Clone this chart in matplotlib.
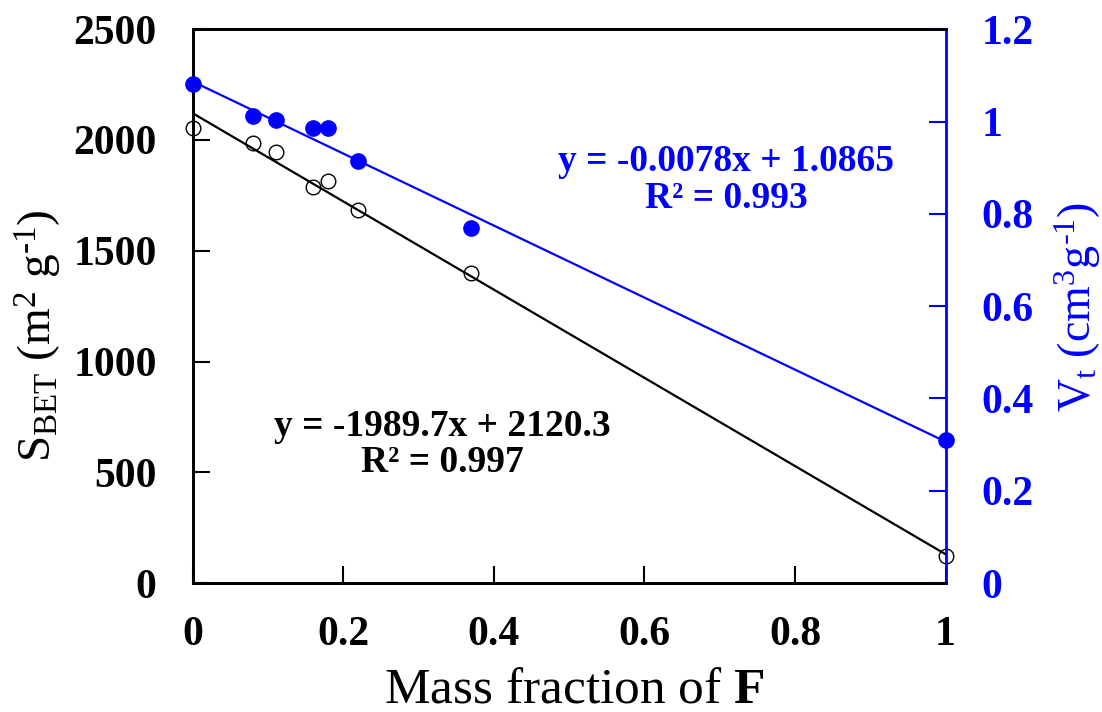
import numpy as np
import matplotlib
matplotlib.use("Agg")
import matplotlib.pyplot as plt

plt.rcParams.update({
    "font.family": "Liberation Serif",
    "mathtext.fontset": "custom",
    "mathtext.rm": "Liberation Serif",
    "mathtext.it": "Liberation Serif:italic",
    "mathtext.bf": "Liberation Serif:bold",
})

# ---- data ----
mass_frac = [0.0, 0.08, 0.11, 0.16, 0.18, 0.22, 0.37, 1.0]
s_bet = [2055, 1985, 1944, 1790, 1813, 1682, 1401, 122]          # m2/g
v_t = [1.082, 1.011, 1.003, 0.985, 0.985, 0.914, 0.770, 0.310]   # cm3/g

# linear fits as printed on the chart
S_SLOPE, S_INT, S_R2 = -1989.7, 2120.3, 0.997
V_SLOPE, V_INT, V_R2 = -0.0078, 1.0865, 0.993   # slope per % F

BLUE = "#0000ff"

fig = plt.figure(figsize=(11.02, 7.12), dpi=100)
ax = fig.add_axes([0.175, 0.181, 0.683, 0.778])
ax2 = ax.twinx()

xl = np.array([min(mass_frac), max(mass_frac)])
ax.plot(xl, S_INT + S_SLOPE * xl, color="black", lw=1.6, zorder=2)
ax.plot(mass_frac, s_bet, "o", ms=10.5, mfc="none", mec="black", mew=1.0, zorder=3, clip_on=False)

ax2.plot(xl, V_INT + V_SLOPE * 100 * xl, color=BLUE, lw=1.6, zorder=2)
ax2.plot(mass_frac, v_t, "o", ms=11, color=BLUE, zorder=3, clip_on=False)

ax.set_xlim(0, 1)
ax.set_ylim(0, 2500)
ax2.set_ylim(0, 1.2)
ax.set_xticks(np.arange(0, 1.01, 0.2))
ax.set_xticklabels(["0", "0.2", "0.4", "0.6", "0.8", "1"])
ax.set_yticks(np.arange(0, 2501, 500))
ax2.set_yticks(np.arange(0, 1.21, 0.2))
ax2.set_yticklabels(["0", "0.2", "0.4", "0.6", "0.8", "1", "1.2"])

for a in (ax, ax2):
    for sp in a.spines.values():
        sp.set_linewidth(2.0)
ax.spines["right"].set_visible(False)
ax2.spines["right"].set_color(BLUE)

ax.tick_params(axis="both", direction="in", length=12, width=1.5, labelsize=30)
ax.tick_params(axis="y", pad=26)
ax.tick_params(axis="x", pad=24)
ax2.tick_params(axis="y", direction="in", length=12, width=1.5, labelsize=30,
                colors=BLUE, pad=26)
for lab in ax.get_xticklabels() + ax.get_yticklabels() + ax2.get_yticklabels():
    lab.set_fontweight("bold")

ax.set_xlabel(r"Mass fraction of $\mathbf{F}$", fontsize=37)
ax.xaxis.set_label_coords(0.507, -0.152)
ax.set_ylabel(r"S$_{\rm BET}$ (m$^2$ g$^{\text{-}1}$)", fontsize=34)
ax.yaxis.set_label_coords(-0.171, 0.447)
ax2.set_ylabel(r"V$_{\rm t}$ (cm$^3$g$^{\text{-}1}$)", fontsize=33, color=BLUE)
ax2.yaxis.set_label_coords(1.142, 0.499)

ax.text(0.331, 0.25, f"y = {S_SLOPE}x + {S_INT}\nR² = {S_R2}", transform=ax.transAxes,
        ha="center", va="center", fontsize=27, fontweight="bold", linespacing=1.05)
ax2.text(0.709, 0.728, f"y = {V_SLOPE}x + {V_INT}\nR² = {V_R2}", transform=ax.transAxes,
         ha="center", va="center", fontsize=27, fontweight="bold", color=BLUE, linespacing=1.05)

fig.savefig("out.png", dpi=100)
